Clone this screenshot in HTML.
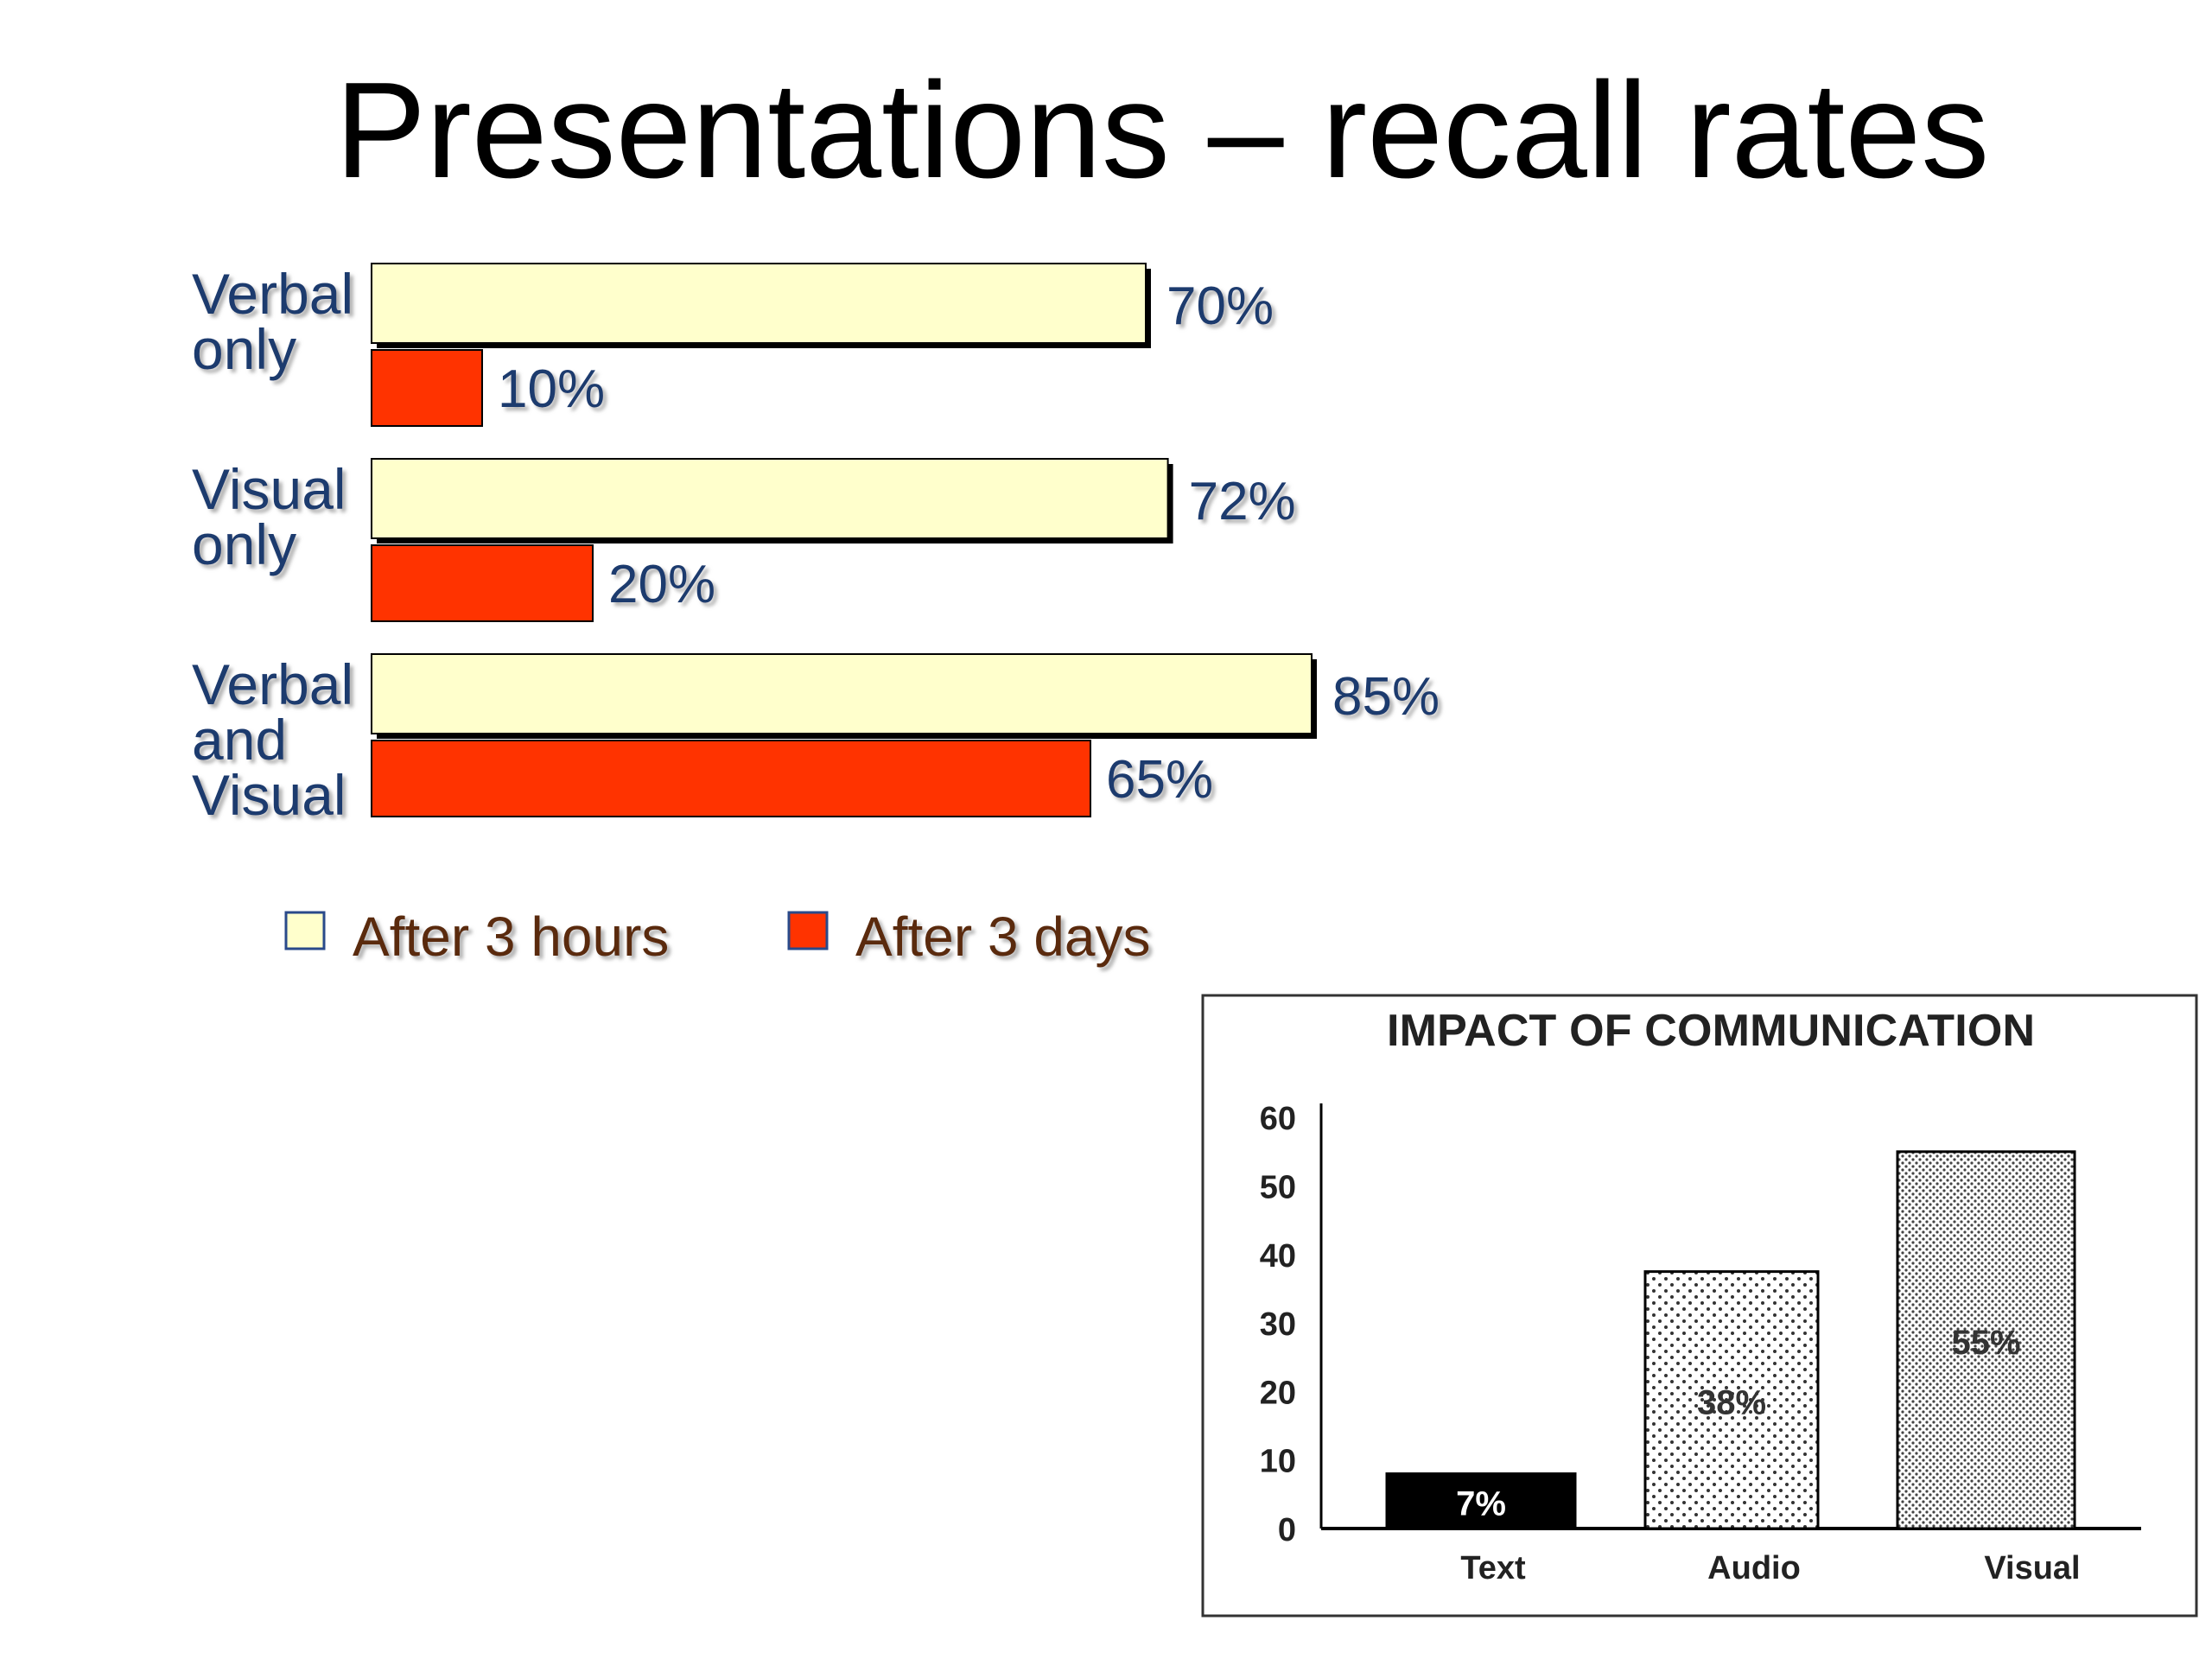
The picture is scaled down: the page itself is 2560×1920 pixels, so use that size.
<!DOCTYPE html>
<html><head><meta charset="utf-8"><style>
html,body{margin:0;padding:0;background:#fff;}
svg{display:block;font-family:"Liberation Sans",Arial,sans-serif;}
</style></head><body>
<svg id="chart" width="2560" height="1920" viewBox="0 0 2560 1920">
<defs>
<pattern id="dotsA" width="14" height="14" patternUnits="userSpaceOnUse"><rect width="14" height="14" fill="#fff"/><circle cx="3" cy="3" r="2" fill="#333"/><circle cx="10" cy="10" r="2" fill="#333"/></pattern>
<pattern id="dotsV" width="8" height="8" patternUnits="userSpaceOnUse"><rect width="8" height="8" fill="#fff"/><circle cx="2" cy="2" r="1.6" fill="#444"/><circle cx="6" cy="6" r="1.6" fill="#444"/></pattern>
<filter id="sh" x="-5%" y="-5%" width="120%" height="130%"><feDropShadow dx="4" dy="4" stdDeviation="2" flood-color="#999" flood-opacity="0.8"/></filter>
</defs>
<text x="1345" y="205" font-size="158" text-anchor="middle" fill="#000">Presentations – recall rates</text>
<g id="main"></g>
<g id="inset"></g>
</svg>
<script>
const groups = [["Verbal","only"],["Visual","only"],["Verbal","and","Visual"]];
const after3h = [70, 72, 85];
const after3d = [10, 20, 65];
const valueLabels3h = ["70%","72%","85%"];
const valueLabels3d = ["10%","20%","65%"];

const insetCats = ["Text","Audio","Visual"];
const insetVals = [8, 37.5, 55];
const insetLabels = ["7%","38%","55%"];
const insetTicks = [0,10,20,30,40,50,60];

const NS="http://www.w3.org/2000/svg";
function mk(tag, attrs, parent, txt){const e=document.createElementNS(NS,tag);for(const k in attrs)e.setAttribute(k,attrs[k]);if(txt!==undefined)e.textContent=txt;parent.appendChild(e);return e;}

// main horizontal chart
const main=document.getElementById('main');
const x0=430, pxPer=12.8;
const xs=v=>x0+v*pxPer;
const gTop=305, gPitch=226, bh=92;
groups.forEach((lines,i)=>{
  const y=gTop+i*gPitch;
  const lab=mk('text',{x:222,y:y+58,'font-size':66,fill:'#1f3a6e',filter:'url(#sh)'},main);
  
  
  lines.forEach((l,j)=>{mk('tspan',{x:222,y:y+58+j*64},lab,l);});
  // shadow for yellow bar
  const s=mk('rect',{x:x0+6,y:y+6,width:xs(after3h[i])-x0,height:bh,fill:'#000'},main);
  
  
  const b1=mk('rect',{x:x0,y:y,width:xs(after3h[i])-x0,height:bh,fill:'#ffffcc',stroke:'#000','stroke-width':2},main);
  
  
  const t1=mk('text',{x:xs(after3h[i])+24,y:y+70,'font-size':62,fill:'#1f3a6e',filter:'url(#sh)'},main,valueLabels3h[i]);
  
  
  const y2=y+bh+8;
  const b2=mk('rect',{x:x0,y:y2,width:xs(after3d[i])-x0,height:bh-4,fill:'#ff3300',stroke:'#000','stroke-width':2},main);
  
  
  const t2=mk('text',{x:xs(after3d[i])+18,y:y2+66,'font-size':62,fill:'#1f3a6e',filter:'url(#sh)'},main,valueLabels3d[i]);
  
  
});
// legend
[["After 3 hours","#ffffcc",331,408],["After 3 days","#ff3300",913,990]].forEach((d,i)=>{
  const r=mk('rect',{x:d[2],y:1056,width:44,height:42,fill:d[1],stroke:'#2a4a8a','stroke-width':3},main);
  
  
  const t=mk('text',{x:d[3],y:1106,'font-size':64,fill:'#5a2a0a',filter:'url(#sh)'},main,d[0]);
  
  
});

// inset chart
const ins=document.getElementById('inset');
const fr=mk('rect',{x:1392,y:1152,width:1150,height:718,fill:'#fff',stroke:'#333','stroke-width':3},ins);


const it=mk('text',{x:1980,y:1210,'font-size':52,'font-weight':'bold','text-anchor':'middle',fill:'#222',textLength:750},ins,'IMPACT OF COMMUNICATION');


const y0=1769, perU=7.93, ax=1529;
const ys=v=>y0-v*perU;
const ya=mk('line',{x1:ax,y1:1277,x2:ax,y2:y0,stroke:'#000','stroke-width':3},ins);


const xa=mk('line',{x1:ax,y1:y0,x2:2478,y2:y0,stroke:'#000','stroke-width':4},ins);


insetTicks.forEach(t=>{
  const e=mk('text',{x:1500,y:ys(t)+14,'font-size':38,'font-weight':'bold','text-anchor':'end',fill:'#222'},ins,String(t));
  
  
});
const barX=[1605,1904,2196], barW=[218,200,205], fills=['#000','url(#dotsA)','url(#dotsV)'];
const catX=[1728,2030,2352];
insetCats.forEach((c,i)=>{
  const r=mk('rect',{x:barX[i],y:ys(insetVals[i]),width:barW[i],height:y0-ys(insetVals[i]),fill:fills[i],stroke:'#000','stroke-width':3},ins);
  
  
  const ly = i===0 ? ys(insetVals[i]/2)+16 : ys(insetVals[i]/2)+16;
  const l=mk('text',{x:barX[i]+barW[i]/2,y:ly,'font-size':40,'font-weight':'bold','text-anchor':'middle',fill:i===0?'#fff':'#333'},ins,insetLabels[i]);
  
  
  const cl=mk('text',{x:catX[i],y:1827,'font-size':38,'font-weight':'bold','text-anchor':'middle',fill:'#222'},ins,c);
  
  
});
</script>
</body></html>
